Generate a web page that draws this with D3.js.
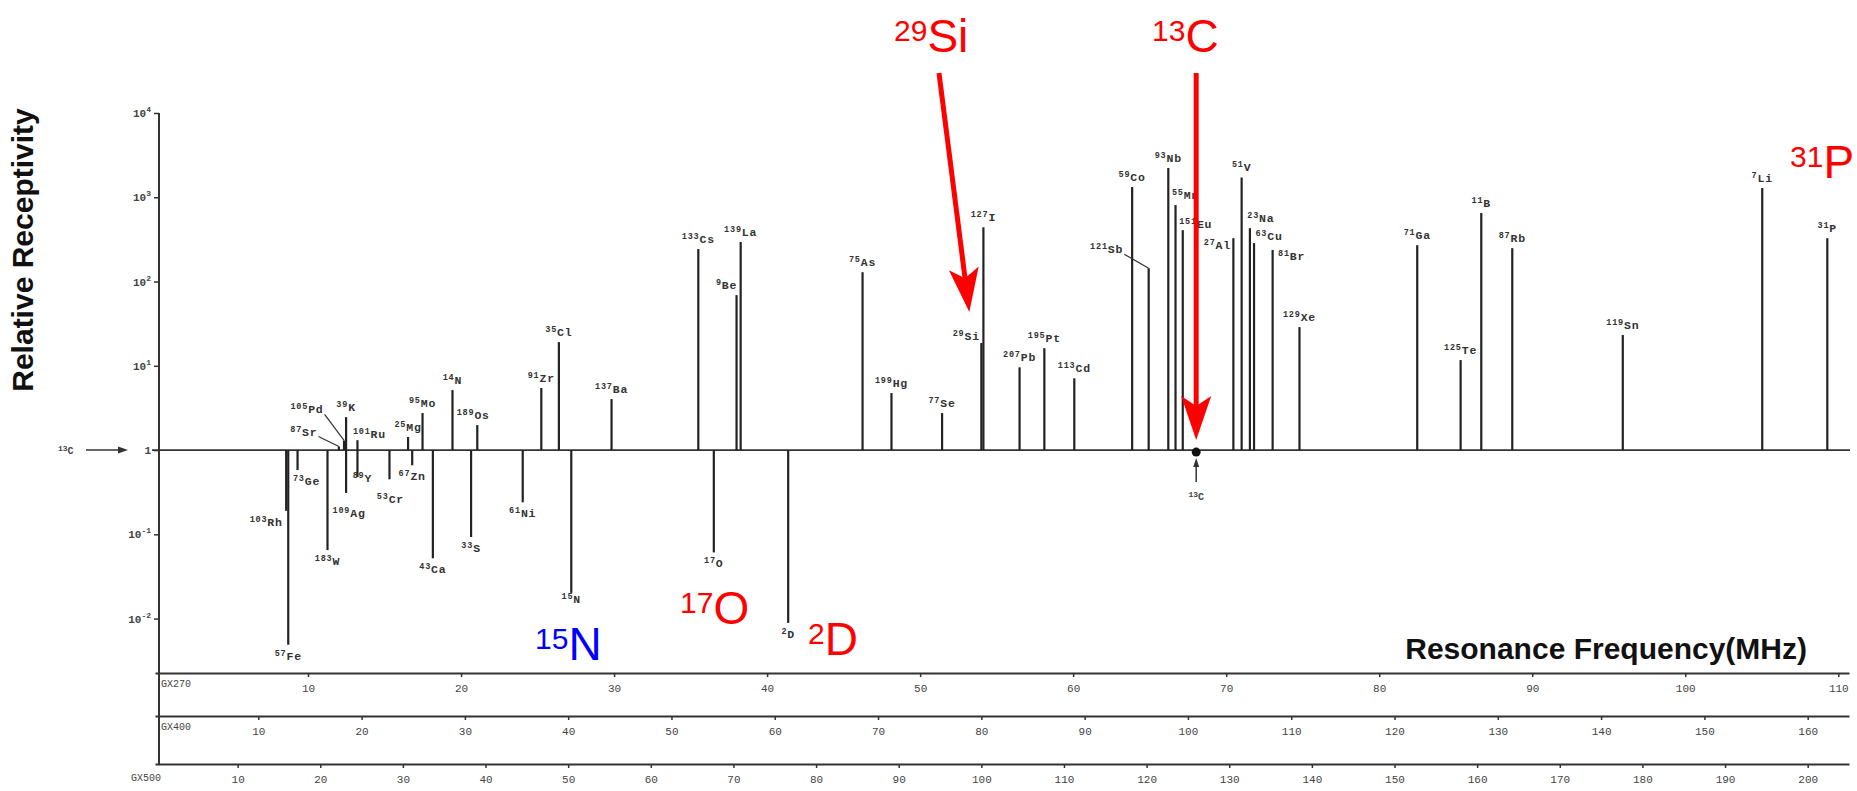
<!DOCTYPE html>
<html>
<head>
<meta charset="utf-8">
<script src="https://cdn.jsdelivr.net/npm/d3@7"></script>
<style>
  body { margin: 0; background: #fff; overflow: hidden; }
</style>
</head>
<body>
<script>
// nuclides, their resonance (MHz, 400 MHz instrument) and receptivity relative to 13C
const nuclides = ['103Rh','57Fe','73Ge','183W','87Sr','105Pd','39K','109Ag','101Ru','89Y',
  '53Cr','25Mg','67Zn','95Mo','43Ca','14N','33S','189Os','61Ni','91Zr',
  '35Cl','15N','137Ba','133Cs','17O','9Be','139La','2D','75As','199Hg',
  '77Se','29Si','127I','207Pb','195Pt','113Cd','59Co','121Sb','93Nb','55Mn',
  '151Eu','27Al','51V','23Na','63Cu','81Br','129Xe','71Ga','125Te','11B',
  '87Rb','119Sn','7Li','31P'];
const freqs = [12.7, 12.9, 13.8, 16.7, 17.8, 18.3, 18.5, 18.5, 19.6, 19.6,
  22.7, 24.5, 24.9, 25.9, 26.9, 28.8, 30.6, 31.2, 35.6, 37.4,
  39.1, 40.3, 44.2, 52.6, 54.1, 56.3, 56.7, 61.3, 68.5, 71.3,
  76.2, 80.0, 80.2, 83.7, 86.1, 89.0, 94.6, 96.2, 98.1, 98.8,
  99.5, 104.4, 105.2, 106.0, 106.4, 108.2, 110.8, 122.2, 126.4, 128.4,
  131.4, 142.1, 155.6, 161.9];
const receptivity = [0.19, 0.0049, 0.58, 0.065, 1.1, 1.3, 2.46, 0.31, 1.31, 0.48,
  0.45, 1.43, 0.66, 2.75, 0.052, 5.15, 0.093, 1.98, 0.24, 5.45,
  19.1, 0.0202, 4.03, 243, 0.061, 69, 295, 0.0089, 129, 4.75,
  2.75, 18.6, 440, 9.6, 16.2, 7.1, 1320, 144, 2220, 808,
  407, 327, 1720, 430, 286, 237, 28.8, 270, 11.7, 650,
  249, 23.2, 1290, 327];

const freq13C = 100.8;

const yTicks = [1e4, 1e3, 1e2, 1e1, 1, 1e-1, 1e-2];

const spectrometers = ['GX270', 'GX400', 'GX500'];
const specMHz = [270, 400, 500];
const ticks270 = [10, 20, 30, 40, 50, 60, 70, 80, 90, 100, 110];
const ticks400 = [10, 20, 30, 40, 50, 60, 70, 80, 90, 100, 110, 120, 130, 140, 150, 160];
const ticks500 = [10, 20, 30, 40, 50, 60, 70, 80, 90, 100, 110, 120, 130, 140, 150, 160, 170, 180, 190, 200];
const bandTicks = [ticks270, ticks400, ticks500];

// label tweaks [dx, dy] where the original label sits off-centre
const labelNudge = {
  '9Be': [-10, 0], '27Al': [-16, 17], '29Si': [-15, 3], '55Mn': [10, 0], '151Eu': [13, 4],
  '23Na': [11, 0], '63Cu': [15, 3], '81Br': [19, 16], '101Ru': [12, 4], '189Os': [-4, 0],
  '73Ge': [9, 0], '103Rh': [-20, 0], '89Y': [5, -10], '109Ag': [3, 9], '53Cr': [1, 9],
  '15N': [0, -5], '105Pd': [-37, -21], '87Sr': [-35, -5], '121Sb': [-42, -9]
};
const leaders = ['105Pd', '87Sr', '121Sb'];

const W = 1857, H = 791;
const labelFont = 'Liberation Mono, DejaVu Sans Mono, monospace';
const svg = d3.select('body').append('svg')
  .attr('width', W).attr('height', H)
  .style('background', '#fff');

const x = d3.scaleLinear().domain([0, 164]).range([155, 1849]);
const y = d3.scaleLog().domain([1e-2, 1e4]).range([618.6, 113]);
const axisX = 159;
const bandY = [673, 716, 764];

// axis titles
svg.append('text')
  .attr('transform', 'translate(33,250) rotate(-90)')
  .attr('text-anchor', 'middle')
  .attr('font-family', 'Liberation Sans, Arial, sans-serif')
  .attr('font-weight', 'bold').attr('font-size', 30).attr('fill', '#111')
  .text('Relative Receptivity');

svg.append('text')
  .attr('x', 1807).attr('y', 659)
  .attr('text-anchor', 'end')
  .attr('font-family', 'Liberation Sans, Arial, sans-serif')
  .attr('font-weight', 'bold').attr('font-size', 30).attr('fill', '#111')
  .text('Resonance Frequency(MHz)');

// y axis
svg.append('line')
  .attr('x1', axisX).attr('x2', axisX)
  .attr('y1', y(1e4)).attr('y2', bandY[2])
  .attr('stroke', '#333').attr('stroke-width', 2);

const yAx = svg.append('g')
  .attr('transform', `translate(${axisX},0)`)
  .call(d3.axisLeft(y).tickValues(yTicks).tickSize(5).tickFormat(''));
yAx.select('.domain').remove();
yAx.selectAll('line').attr('stroke', '#333').attr('stroke-width', 1.5);

yTicks.forEach(v => {
  const e = Math.round(Math.log10(v));
  const t = svg.append('text')
    .attr('x', axisX - 8).attr('y', y(v) + 4)
    .attr('text-anchor', 'end')
    .attr('font-family', labelFont).attr('font-weight', 'bold')
    .attr('fill', '#444');
  if (e === 0) {
    t.attr('font-size', 11).text('1');
  } else {
    t.append('tspan').attr('font-size', 11).text('10');
    t.append('tspan').attr('font-size', 8).attr('dy', -5).text(e);
  }
});

// 13C reference pointer on the y axis
const ref = svg.append('text')
  .attr('x', 58).attr('y', y(1) + 4)
  .attr('font-family', labelFont).attr('font-weight', 'bold').attr('fill', '#444');
ref.append('tspan').attr('font-size', 8).attr('dy', -3).text('13');
ref.append('tspan').attr('font-size', 10).attr('dy', 3).text('C');
svg.append('line')
  .attr('x1', 86).attr('x2', 120).attr('y1', y(1)).attr('y2', y(1))
  .attr('stroke', '#333').attr('stroke-width', 1.5);
svg.append('path')
  .attr('d', `M128,${y(1)} L118,${y(1) - 3.5} L118,${y(1) + 3.5} Z`)
  .attr('fill', '#333');

// baseline (receptivity = 1)
svg.append('line')
  .attr('x1', 152).attr('x2', 1850)
  .attr('y1', y(1)).attr('y2', y(1))
  .attr('stroke', '#333').attr('stroke-width', 1.8);

// frequency bands: same field, scaled for each spectrometer
spectrometers.forEach((s, i) => {
  const sc = d3.scaleLinear().domain([0, 164 * specMHz[i] / 400]).range([155, 1849]);
  const g = svg.append('g')
    .attr('transform', `translate(0,${bandY[i]})`)
    .call(d3.axisBottom(sc).tickValues(bandTicks[i]).tickSize(4).tickSizeOuter(0).tickPadding(7));
  g.select('.domain').attr('stroke', '#333').attr('stroke-width', 2);
  g.selectAll('.tick line').attr('stroke', '#333').attr('stroke-width', 1.5);
  g.selectAll('text')
    .attr('font-family', labelFont).attr('font-size', 11).attr('fill', '#444');
  svg.append('text')
    .attr('x', i === 2 ? 131 : 161).attr('y', bandY[i] + (i === 2 ? 17 : 14))
    .attr('font-family', labelFont).attr('font-size', 10).attr('fill', '#444')
    .text(s);
});

// peaks
const peaks = nuclides.map((n, i) => ({ name: n, f: freqs[i], v: receptivity[i] }));

svg.append('g').selectAll('line')
  .data(peaks)
  .join('line')
    .attr('x1', d => x(d.f)).attr('x2', d => x(d.f))
    .attr('y1', y(1)).attr('y2', d => y(d.v))
    .attr('stroke', '#222').attr('stroke-width', 2.2);

const lab = svg.append('g')
  .attr('font-family', labelFont).attr('font-weight', 'bold').attr('fill', '#333');

peaks.forEach(d => {
  const [, mass, sym] = d.name.match(/^(\d+)(\D+)$/);
  const nudge = labelNudge[d.name] || [0, 0];
  const up = d.v >= 1;
  const lx = x(d.f) + nudge[0];
  const ly = (up ? y(d.v) - 6 : y(d.v) + 15) + nudge[1];
  const t = lab.append('text')
    .attr('x', lx).attr('y', ly)
    .attr('text-anchor', 'middle').attr('letter-spacing', 0.8);
  t.append('tspan').attr('font-size', 8.5).attr('dy', -4).text(mass);
  t.append('tspan').attr('font-size', 11.5).attr('dy', 4).text(sym);
  if (leaders.includes(d.name)) {
    const bb = t.node().getBBox();
    lab.append('path')
      .attr('d', `M${bb.x + bb.width + 1},${ly + 1} L${x(d.f)},${y(d.v)}`)
      .attr('stroke', '#333').attr('stroke-width', 1.2).attr('fill', 'none');
  }
});

// 13C marker on the baseline
const cx = x(freq13C);
svg.append('circle').attr('cx', cx).attr('cy', y(1) + 2).attr('r', 4.5).attr('fill', '#111');
svg.append('line')
  .attr('x1', cx).attr('x2', cx).attr('y1', y(1) + 32).attr('y2', y(1) + 12)
  .attr('stroke', '#333').attr('stroke-width', 1.5);
svg.append('path')
  .attr('d', `M${cx},${y(1) + 8} L${cx - 3},${y(1) + 17} L${cx + 3},${y(1) + 17} Z`)
  .attr('fill', '#333');
const c13 = svg.append('text')
  .attr('x', cx).attr('y', y(1) + 50)
  .attr('text-anchor', 'middle')
  .attr('font-family', labelFont).attr('font-weight', 'bold').attr('fill', '#444');
c13.append('tspan').attr('font-size', 8).attr('dy', -3).text('13');
c13.append('tspan').attr('font-size', 10).attr('dy', 3).text('C');

// red / blue highlights
function bigLabel(mass, sym, lx, ly, color) {
  const t = svg.append('text')
    .attr('x', lx).attr('y', ly)
    .attr('font-family', 'Liberation Sans, Arial, sans-serif')
    .attr('fill', color);
  t.append('tspan').attr('font-size', 30).attr('dy', -11.5).text(mass);
  t.append('tspan').attr('font-size', 46).attr('dy', 11.5).text(sym);
}
bigLabel('29', 'Si', 894, 52, '#ff0000');
bigLabel('13', 'C', 1152, 52, '#ff0000');
bigLabel('31', 'P', 1790, 178, '#ff0000');
bigLabel('17', 'O', 680, 624, '#ff0000');
bigLabel('2', 'D', 808, 655, '#ff0000');
bigLabel('15', 'N', 535, 660, '#0000ff');

function redArrow(x1, y1, x2, y2) {
  const L = 44, hw = 15;
  const len = Math.hypot(x2 - x1, y2 - y1);
  const ux = (x2 - x1) / len, uy = (y2 - y1) / len;
  const bx = x2 - ux * L, by = y2 - uy * L;
  svg.append('line')
    .attr('x1', x1).attr('y1', y1)
    .attr('x2', bx + ux * 10).attr('y2', by + uy * 10)
    .attr('stroke', '#ff0000').attr('stroke-width', 5);
  svg.append('path')
    .attr('d', `M${x2},${y2} L${bx - uy * hw},${by + ux * hw} L${bx + ux * 10},${by + uy * 10} L${bx + uy * hw},${by - ux * hw} Z`)
    .attr('fill', '#ff0000');
}
const si = peaks.find(d => d.name === '29Si');
redArrow(939, 73, x(si.f) - 12, y(si.v) - 31);
redArrow(cx, 73, cx, y(1) - 10);
</script>
</body>
</html>
